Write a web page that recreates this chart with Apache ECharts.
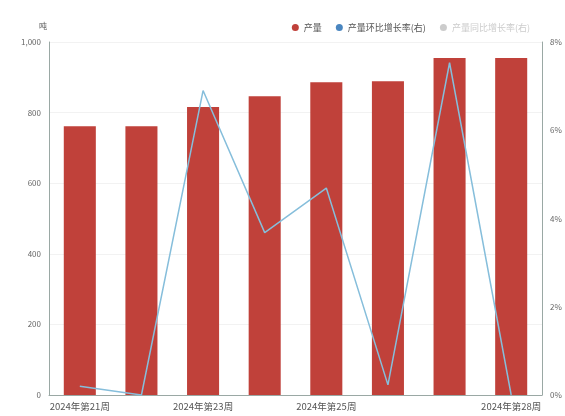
<!DOCTYPE html>
<html><head><meta charset="utf-8">
<script src="https://cdn.jsdelivr.net/npm/echarts@6/dist/echarts.min.js"></script>
<style>html,body{margin:0;padding:0;background:#fff}#c{width:565px;height:416px}</style>
</head><body><div id="c"></div>
<script>
const categories = ['2024年第21周','2024年第22周','2024年第23周','2024年第24周','2024年第25周','2024年第26周','2024年第27周','2024年第28周'];
const output = [761, 761, 816, 846, 886, 889, 955, 955];
const momGrowth = [0.2, 0.0, 6.9, 3.68, 4.69, 0.23, 7.53, 0.0];
const yoyGrowth = [];
const leftTicks = [0, 200, 400, 600, 800, 1000];
const rightTicks = [0, 2, 4, 6, 8];

const chart = echarts.init(document.getElementById('c'), null, {renderer:'canvas'});
const font = '"Noto Sans CJK SC", sans-serif';
chart.setOption({
  animation: false,
  textStyle: {fontFamily: font},
  legend: {
    right: 30, top: 18, itemWidth: 7, itemHeight: 7, itemGap: 14,
    icon: 'circle',
    textStyle: {fontSize: 9, color: '#555', fontFamily: font},
    data: ['产量', '产量环比增长率(右)', '产量同比增长率(右)'],
    selected: {'产量同比增长率(右)': false},
    inactiveColor: '#ccc'
  },
  grid: {left: 49, right: 23, top: 42, bottom: 21},
  xAxis: {
    type: 'category', data: categories,
    axisTick: {show: false},
    axisLine: {lineStyle: {color: '#9aa8a4'}},
    axisLabel: {fontSize: 9.5, color: '#555', margin: 7,
      interval: function(i){ return i===0||i===2||i===4||i===7; }}
  },
  yAxis: [{
    type: 'value', min: leftTicks[0], max: leftTicks[leftTicks.length-1], interval: 200,
    name: '吨', nameGap: 12, nameTextStyle: {fontSize: 8, color: '#555', padding:[0,0,0,-12]},
    axisLine: {show: true, lineStyle: {color: '#9aa8a4'}},
    axisTick: {show: false},
    splitLine: {lineStyle: {color: '#f2f2f2'}},
    axisLabel: {fontSize: 8, color: '#666', margin: 8,
      formatter: v => v.toLocaleString('en-US')}
  }, {
    type: 'value', min: rightTicks[0], max: rightTicks[rightTicks.length-1], interval: 2,
    axisLine: {show: true, lineStyle: {color: '#9aa8a4'}},
    axisTick: {show: false},
    splitLine: {show: false},
    axisLabel: {fontSize: 8, color: '#666', margin: 8, formatter: v => v + '%'}
  }],
  series: [{
    name: '产量', type: 'bar', data: output, barWidth: '52%',
    itemStyle: {color: '#c0413a'}
  }, {
    name: '产量环比增长率(右)', type: 'line', yAxisIndex: 1, data: momGrowth,
    symbol: 'none', lineStyle: {color: '#86bedb', width: 1.5},
    itemStyle: {color: '#4a86c0'}
  }, {
    name: '产量同比增长率(右)', type: 'line', yAxisIndex: 1, data: yoyGrowth,
    symbol: 'none', itemStyle: {color: '#bbb'}
  }]
});
</script></body></html>
